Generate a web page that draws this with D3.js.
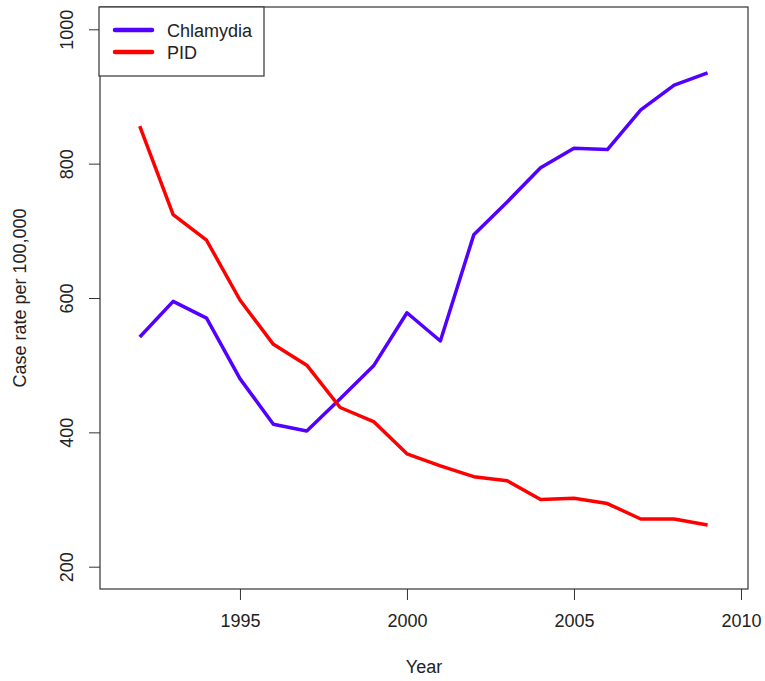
<!DOCTYPE html>
<html lang="en">
<head>
    <meta charset="utf-8" />
    <title>Chlamydia and PID case rates</title>
    <script src="https://d3js.org/d3.v7.min.js"></script>
    <style>
        body { margin: 0; background: #fff; }
        text { font-family: "Liberation Sans", Arial, sans-serif; fill: #222; }
    </style>
</head>
<body>
<script>
    var w = 765;
    var h = 681;

    // data
    var years = [1992, 1993, 1994, 1995, 1996, 1997, 1998, 1999, 2000,
                 2001, 2002, 2003, 2004, 2005, 2006, 2007, 2008, 2009];
    var chlamydia = [542, 595, 570, 480, 412, 402, 450, 499, 578,
                     536, 694, 743, 794, 823, 821, 880, 917, 935];
    var pid = [856, 724, 686, 597, 531, 500, 437, 416, 368,
               350, 334, 328, 300, 302, 294, 271, 271, 262];
    var xTicks = [1995, 2000, 2005, 2010];
    var yTicks = [200, 400, 600, 800, 1000];
    var seriesNames = ["Chlamydia", "PID"];
    var seriesColors = ["#5200ff", "#ff0000"];

    // plot box edges (note: "top" is taken by window, so use other names)
    var boxL = 100, boxR = 748, boxT = 7, boxB = 589;

    var xScale = d3.scaleLinear()
        .domain([1990.81, 2010.21])
        .range([boxL, boxR]);

    var yScale = d3.scaleLinear()
        .domain([166.8, 1033.2])
        .range([boxB, boxT]);

    var svg = d3.select("body")
        .append("svg")
        .attr("width", w)
        .attr("height", h);

    // x axis
    var xAxis = d3.axisBottom(xScale)
        .tickValues(xTicks)
        .tickFormat(d3.format("d"))
        .tickSize(11)
        .tickPadding(14)
        .tickSizeOuter(0);
    var gx = svg.append("g")
        .attr("transform", "translate(0," + boxB + ")")
        .call(xAxis);
    gx.select(".domain").remove();
    gx.selectAll("line").attr("stroke", "#333");
    gx.selectAll("text")
        .attr("font-size", "18px")
        .attr("font-family", "Liberation Sans, Arial, sans-serif")
        .attr("fill", "#222");

    // y axis, labels turned like in R
    var yAxis = d3.axisLeft(yScale)
        .tickValues(yTicks)
        .tickSize(11)
        .tickFormat(d3.format("d"))
        .tickSizeOuter(0);
    var gy = svg.append("g")
        .attr("transform", "translate(" + boxL + ",0)")
        .call(yAxis);
    gy.select(".domain").remove();
    gy.selectAll("line").attr("stroke", "#333");
    gy.selectAll("text")
        .attr("x", 0)
        .attr("dy", 0)
        .attr("text-anchor", "middle")
        .attr("transform", "translate(-27,0) rotate(-90)")
        .attr("font-size", "18px")
        .attr("font-family", "Liberation Sans, Arial, sans-serif")
        .attr("fill", "#222");

    // plot box
    svg.append("rect")
        .attr("x", boxL)
        .attr("y", boxT)
        .attr("width", boxR - boxL)
        .attr("height", boxB - boxT)
        .attr("fill", "none")
        .attr("stroke", "#333")
        .attr("stroke-width", 1.2);

    // axis titles
    svg.append("text")
        .attr("x", (boxL + boxR) / 2)
        .attr("y", 673)
        .attr("text-anchor", "middle")
        .attr("font-size", "18px")
        .text("Year");

    svg.append("text")
        .attr("transform", "translate(26," + (boxB + boxT) / 2 + ") rotate(-90)")
        .attr("text-anchor", "middle")
        .attr("font-size", "18px")
        .text("Case rate per 100,000");

    var line = d3.line()
        .x(function(d, i) { return xScale(years[i]); })
        .y(function(d) { return yScale(d); });

    [chlamydia, pid].forEach(function(series, k) {
        svg.append("path")
            .datum(series)
            .attr("d", line)
            .attr("fill", "none")
            .attr("stroke", seriesColors[k])
            .attr("stroke-width", 3.5)
            .attr("stroke-linejoin", "round");
    });

    // legend
    var legend = svg.append("g");
    legend.append("rect")
        .attr("x", 99)
        .attr("y", boxT)
        .attr("width", 165)
        .attr("height", 69)
        .attr("fill", "#fff")
        .attr("stroke", "#333")
        .attr("stroke-width", 1.2);

    seriesNames.forEach(function(name, k) {
        var ly = 30 + k * 22;
        legend.append("line")
            .attr("x1", 115)
            .attr("x2", 152)
            .attr("y1", ly)
            .attr("y2", ly)
            .attr("stroke", seriesColors[k])
            .attr("stroke-width", 4.5)
            .attr("stroke-linecap", "round");
        legend.append("text")
            .attr("x", 167)
            .attr("y", ly + 6.5)
            .attr("font-size", "18px")
            .text(name);
    });
</script>
</body>
</html>
